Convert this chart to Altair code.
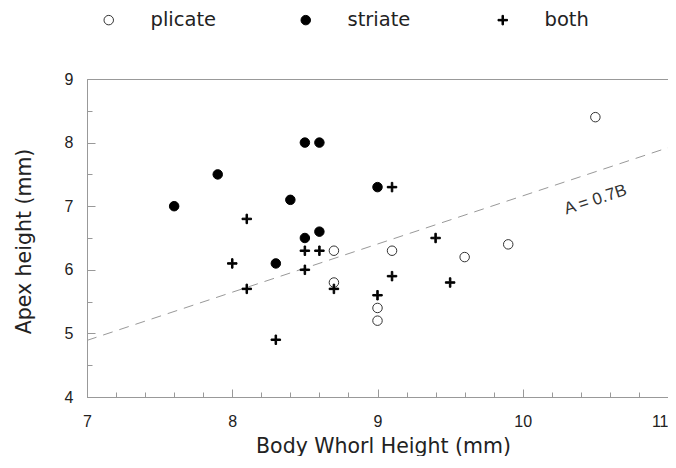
import altair as alt
import pandas as pd

groups = ["plicate", "striate", "both"]

plicate_x = [8.7, 8.7, 9.1, 9.6, 9.9, 10.5, 9.0, 9.0]
plicate_y = [6.3, 5.8, 6.3, 6.2, 6.4, 8.4, 5.4, 5.2]
striate_x = [7.6, 7.9, 8.5, 8.6, 8.4, 8.5, 8.6, 8.3, 9.0]
striate_y = [7.0, 7.5, 8.0, 8.0, 7.1, 6.5, 6.6, 6.1, 7.3]
both_x = [8.1, 8.5, 8.6, 9.1, 8.0, 8.1, 8.5, 8.7, 8.3, 9.4, 9.1, 9.5, 9.0]
both_y = [6.8, 6.3, 6.3, 7.3, 6.1, 5.7, 6.0, 5.7, 4.9, 6.5, 5.9, 5.8, 5.6]

line_x = [7.0, 11.0]
line_y = [4.89, 7.92]
line_label = ["A = 0.7B"]
line_label_x = [10.5]
line_label_y = [7.1]

x_label_values = [7, 8, 9, 10, 11]
y_label_values = [4, 5, 6, 7, 8, 9]
x_tick_values = [7.0, 7.2, 7.4, 7.6, 7.8, 8.0, 8.2, 8.4, 8.6, 8.8, 9.0,
                 9.2, 9.4, 9.6, 9.8, 10.0, 10.2, 10.4, 10.6, 10.8, 11.0]
y_tick_values = [4.0, 4.5, 5.0, 5.5, 6.0, 6.5, 7.0, 7.5, 8.0, 8.5, 9.0]

rows = []
for g, xs, ys in [("plicate", plicate_x, plicate_y),
                  ("striate", striate_x, striate_y),
                  ("both", both_x, both_y)]:
    for a, b in zip(xs, ys):
        rows.append({"group": g, "x": a, "y": b})
df = pd.DataFrame(rows)
line_df = pd.DataFrame({"x": line_x, "y": line_y})
label_df = pd.DataFrame({"x": line_label_x, "y": line_label_y, "t": line_label})

W, H = 581, 318
GRAY = "#999999"
TXT = "#222222"
cross = "M-1,-0.16H-0.16V-1H0.16V-0.16H1V0.16H0.16V1H-0.16V0.16H-1Z"

xscale = alt.Scale(domain=[7, 11], nice=False, zero=False)
yscale = alt.Scale(domain=[4, 9], nice=False, zero=False)

legend = alt.Legend(
    title=None, orient="none", direction="horizontal", columns=3,
    legendX=12, legendY=-69, gridAlign="all", columnPadding=79,
    labelOffset=32, labelFont="DejaVu Sans", labelFontSize=19.5,
    labelColor=TXT, symbolSize=90, symbolStrokeWidth=1, padding=0,
    labelLimit=0,
)

bottom_axis = alt.Axis(
    values=x_label_values, ticks=False, tickSize=0, grid=False,
    domainColor=GRAY, domainWidth=1, labelFont="Liberation Sans",
    labelFontSize=16, labelColor=TXT, labelPadding=16,
    labelAlign={"condition": {"test": "datum.value >= 11", "value": "right"}, "value": "center"},
    title="Body Whorl Height (mm)", titleFont="DejaVu Sans",
    titleFontSize=20.5, titleFontWeight="normal", titleColor=TXT,
    titleBaseline="alphabetic", titleX=296, titleY=55, titleAlign="center",
    labelFlush=False, labelOverlap=False,
)
left_axis = alt.Axis(
    values=y_label_values, ticks=False, tickSize=0, grid=False,
    domainColor=GRAY, domainWidth=1, labelFont="Liberation Sans",
    labelFontSize=16, labelColor=TXT, labelPadding=14,
    title="Apex height (mm)", titleFont="DejaVu Sans",
    titleFontSize=20.5, titleFontWeight="normal", titleColor=TXT,
    titleBaseline="alphabetic", titleX=-57, titleY=162, titleAlign="center",
    titleAngle=270, labelFlush=False, labelOverlap=False,
)
top_axis = alt.Axis(
    orient="top", offset=-H, values=x_tick_values, labels=False,
    domain=False, grid=False, title=None, ticks=True, tickColor=GRAY,
    tickWidth=1,
    tickSize={"condition": {"test": "abs(datum.value - round(datum.value)) < 0.001", "value": 8}, "value": 5},
)
right_axis = alt.Axis(
    orient="right", offset=-W, values=y_tick_values, labels=False,
    domain=False, grid=False, title=None, ticks=True, tickColor=GRAY,
    tickWidth=1,
    tickSize={"condition": {"test": "abs(datum.value - round(datum.value)) < 0.001", "value": 8}, "value": 5},
)

points = alt.Chart(df).mark_point(
    size=90, strokeWidth=1, opacity=1, fillOpacity=1, strokeOpacity=1
).encode(
    x=alt.X("x:Q", scale=xscale, axis=bottom_axis),
    y=alt.Y("y:Q", scale=yscale, axis=left_axis),
    shape=alt.Shape("group:N", sort=groups,
                    scale=alt.Scale(domain=groups, range=["circle", "circle", cross]),
                    legend=legend),
    fill=alt.Fill("group:N", sort=groups,
                  scale=alt.Scale(domain=groups, range=["white", "black", "black"]),
                  legend=legend),
    stroke=alt.Stroke("group:N", sort=groups,
                      scale=alt.Scale(domain=groups, range=["#333333", "black", "black"]),
                      legend=legend),
)

line = alt.Chart(line_df).mark_line(
    strokeDash=[10, 7], color=GRAY, strokeWidth=1
).encode(
    x=alt.X("x:Q", scale=xscale, axis=top_axis),
    y=alt.Y("y:Q", scale=yscale, axis=right_axis),
)

label = alt.Chart(label_df).mark_text(
    angle=342, font="Liberation Sans", fontSize=17, color="#333333",
    align="center", baseline="middle"
).encode(
    x=alt.X("x:Q", scale=xscale, axis=None),
    y=alt.Y("y:Q", scale=yscale, axis=None),
    text="t:N",
)

chart = alt.layer(line, label, points).resolve_axis(
    x="independent", y="independent"
).properties(
    width=W, height=H,
    autosize=alt.AutoSizeParams(type="none"),
    padding={"left": 79, "top": 71, "right": 0, "bottom": 59},
).configure_view(
    stroke=GRAY, strokeWidth=1
)

chart.save("out.html", embed_options={"renderer": "svg", "actions": False})
